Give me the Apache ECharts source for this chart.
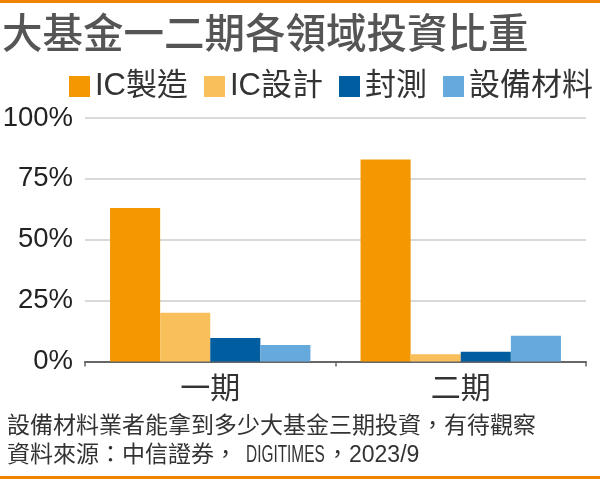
<!DOCTYPE html>
<html>
<head>
<meta charset="utf-8">
<script src="https://cdn.jsdelivr.net/npm/echarts@6/dist/echarts.min.js"></script>
<style>
html,body{margin:0;padding:0;background:#fff;}
#c{width:600px;height:479px;}
</style>
</head>
<body>
<div id="c"></div>
<script>
var categories = ['一期', '二期'];
var seriesNames = ['IC製造', 'IC設計', '封測', '設備材料'];
var icManufacturing = [63, 83];
var icDesign = [20, 3];
var packagingTesting = [9.7, 4];
var equipmentMaterials = [6.8, 10.6];
var yTicks = [0, 25, 50, 75, 100];
var colors = ['#F39800', '#F9BF5B', '#005DA0', '#66A9DC'];
var FONT = "'Liberation Sans', 'Noto Sans CJK TC', sans-serif";
var TITLE_FONT = "'Noto Sans CJK TC', sans-serif";

var chart = echarts.init(document.getElementById('c'));
var dataSets = [icManufacturing, icDesign, packagingTesting, equipmentMaterials];
var series = seriesNames.map(function (n, i) {
  return {
    name: n,
    type: 'bar',
    data: dataSets[i],
    barGap: '0%',
    barCategoryGap: '20%',
    itemStyle: { color: colors[i] },
    emphasis: { disabled: true }
  };
});

chart.setOption({
  animation: false,
  color: colors,
  graphic: [
    { type: 'rect', shape: { x: 0, y: 0, width: 600, height: 3 }, style: { fill: '#F08300' } },
    { type: 'rect', shape: { x: 0, y: 476, width: 600, height: 3 }, style: { fill: '#F08300' } },
    { type: 'text', left: 2, top: 12, style: { text: '大基金一二期各領域投資比重', font: '500 40.5px ' + TITLE_FONT, fill: '#555555' } },
    { type: 'text', left: 7, top: 415, style: { text: '設備材料業者能拿到多少大基金三期投資，有待觀察', font: '23px ' + FONT, fill: '#333333' } },
    { type: 'text', left: 7, top: 444, style: { text: '資料來源：中信證券，', font: '23px ' + FONT, fill: '#333333' } },
    { type: 'text', x: 246, y: 444, scaleX: 0.67, style: { text: 'DIGITIMES', font: '23px ' + FONT, fill: '#333333' } },
    { type: 'text', x: 326, y: 444, style: { text: '，2023/9', font: '23px ' + FONT, fill: '#333333' } }
  ],
  legend: {
    left: 64,
    top: 66,
    itemWidth: 21,
    itemHeight: 21,
    itemGap: 16,
    icon: 'rect',
    selectedMode: false,
    textStyle: { fontSize: 31, fontFamily: FONT, color: '#333333' },
    data: seriesNames
  },
  grid: { left: 85, right: 14, top: 118, bottom: 117.5, containLabel: false, outerBoundsMode: 'none' },
  xAxis: {
    type: 'category',
    data: categories,
    axisLine: { lineStyle: { color: '#666666', width: 2 } },
    axisTick: { show: true, length: 5, lineStyle: { color: '#666666', width: 1.5 } },
    axisLabel: { fontSize: 30, fontFamily: FONT, color: '#333333', margin: 13 }
  },
  yAxis: {
    type: 'value',
    min: 0,
    max: 100,
    interval: 25,
    axisLine: { show: false },
    axisTick: { show: false },
    splitLine: { lineStyle: { color: '#CCCCCC', width: 1.5 } },
    axisLabel: {
      fontSize: 27.5,
      fontFamily: FONT,
      color: '#222222',
      margin: 12,
      formatter: function (v) { return yTicks.indexOf(v) >= 0 ? v + '%' : ''; }
    }
  },
  series: series
});
</script>
</body>
</html>
